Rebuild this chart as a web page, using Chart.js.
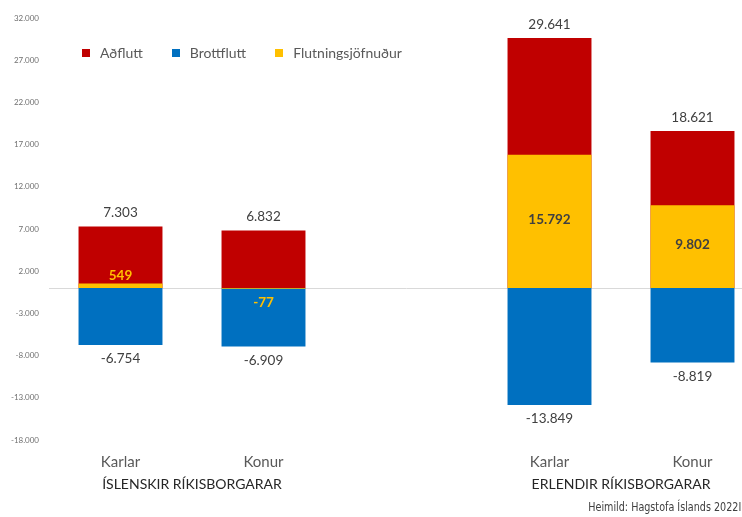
<!DOCTYPE html>
<html>
<head>
<meta charset="utf-8">
<script src="https://cdn.jsdelivr.net/npm/chart.js@4"></script>
<style>
  html, body { margin: 0; padding: 0; background: #fff; overflow: hidden; }
  #wrap { position: relative; width: 742px; height: 517px; overflow: hidden; }
  #c { position: absolute; left: 0; top: 0; }
  #legend { position: absolute; left: 82px; top: 44px; display: flex; align-items: center;
            font-family: Lato, "Open Sans", sans-serif; font-size: 14px; color: #595959; }
  #legend .it { display: flex; align-items: center; margin-right: 29px; }
  #legend .sw { width: 8px; height: 8px; margin-right: 10px; }
  #source { position: absolute; right: 1px; top: 499px; font-family: "Liberation Sans Narrow", "DejaVu Sans Condensed", sans-serif;
            font-size: 13px; color: #404040; white-space: nowrap; transform-origin: right center; }
</style>
</head>
<body>
<div id="wrap">
  <canvas id="c" width="764" height="517"></canvas>
  <div id="legend"></div>
  <div id="source"></div>
</div>
<script>
// ---- data ----
const categories = ['Karlar', 'Konur', '', 'Karlar', 'Konur'];
const groupLabels = ['ÍSLENSKIR RÍKISBORGARAR', 'ERLENDIR RÍKISBORGARAR'];
const seriesNames = ['Aðflutt', 'Brottflutt', 'Flutningsjöfnuður'];
const adflutt = [7303, 6832, null, 29641, 18621];
const brottflutt = [-6754, -6909, null, -13849, -8819];
const flutningsjofnudur = [549, -77, null, 15792, 9802];
const yTicks = [-18000, -13000, -8000, -3000, 2000, 7000, 12000, 17000, 22000, 27000, 32000];
const sourceText = 'Heimild: Hagstofa Íslands 2022I';

const colors = ['#C00000', '#0070C0', '#FFC000'];

function fmt(v) {
  const s = Math.abs(v).toString().replace(/\B(?=(\d{3})+(?!\d))/g, '.');
  return (v < 0 ? '-' : '') + s;
}

// legend + source as HTML text
const lg = document.getElementById('legend');
seriesNames.forEach((n, i) => {
  const it = document.createElement('div'); it.className = 'it';
  const sw = document.createElement('div'); sw.className = 'sw'; sw.style.background = colors[i];
  const tx = document.createElement('span'); tx.textContent = n;
  it.appendChild(sw); it.appendChild(tx); lg.appendChild(it);
});
const src = document.getElementById('source');
src.textContent = sourceText;
const sw0 = src.getBoundingClientRect().width;
if (sw0 > 0) src.style.transform = 'scaleX(' + (153 / sw0) + ')';

const zeroLine = {
  id: 'zeroLine',
  beforeDatasetsDraw(chart) {
    const { ctx, chartArea, scales } = chart;
    const y = Math.round(scales.y.getPixelForValue(0)) + 0.5;
    ctx.save();
    ctx.strokeStyle = '#d9d9d9';
    ctx.lineWidth = 1;
    ctx.beginPath();
    ctx.moveTo(chartArea.left, y);
    ctx.lineTo(chartArea.right, y);
    ctx.stroke();
    ctx.restore();
  }
};

const valueLabels = {
  id: 'valueLabels',
  afterDatasetsDraw(chart) {
    const ctx = chart.ctx;
    ctx.save();
    ctx.textAlign = 'center';
    ctx.textBaseline = 'middle';
    chart.data.datasets.forEach((ds, di) => {
      const meta = chart.getDatasetMeta(di);
      meta.data.forEach((el, i) => {
        const v = ds.data[i];
        if (v === null || v === undefined) return;
        const x = el.x, top = el.y, base = el.base;
        let y, color, font;
        if (di === 0) {
          y = top - 13.5; color = '#404040'; font = '13.5px Lato, sans-serif';
        } else if (di === 1) {
          y = top + 14; color = '#404040'; font = '13.5px Lato, sans-serif';
        } else {
          font = 'bold 13.5px Lato, sans-serif';
          if (Math.abs(base - top) < 24) {
            color = '#FFC000';
            y = v >= 0 ? top - 8 : top + 14;
          } else {
            color = '#404040';
            y = (top + base) / 2 - 2;
          }
        }
        ctx.font = font;
        ctx.fillStyle = color;
        ctx.fillText(fmt(v), x, y);
      });
    });
    ctx.restore();
  }
};

const groupAxis = {
  id: 'groupAxis',
  afterDraw(chart) {
    const ctx = chart.ctx, xs = chart.scales.x;
    const pairs = [[0, 1], [3, 4]];
    ctx.save();
    ctx.font = '14px Lato, sans-serif';
    ctx.fillStyle = '#262626';
    ctx.textAlign = 'center';
    ctx.textBaseline = 'middle';
    pairs.forEach((p, gi) => {
      const x = (xs.getPixelForValue(p[0]) + xs.getPixelForValue(p[1])) / 2;
      ctx.fillText(groupLabels[gi], x, 484);
    });
    ctx.restore();
  }
};

new Chart(document.getElementById('c'), {
  type: 'bar',
  data: {
    labels: categories,
    datasets: [
      { label: seriesNames[0], data: adflutt, backgroundColor: colors[0], order: 1 },
      { label: seriesNames[1], data: brottflutt, backgroundColor: colors[1], order: 1 },
      { label: seriesNames[2], data: flutningsjofnudur, backgroundColor: colors[2], order: 0 }
    ]
  },
  options: {
    responsive: false,
    animation: false,
    layout: { padding: { top: 18, left: 0, right: 0, bottom: 46 } },
    datasets: { bar: { grouped: false, categoryPercentage: 1, barPercentage: 0.587, borderWidth: 0 } },
    plugins: { legend: { display: false }, tooltip: { enabled: false } },
    scales: {
      x: {
        offset: true,
        afterFit(scale) { scale.height = 31; },
        grid: { display: false, drawTicks: false },
        border: { display: false },
        ticks: { padding: 13, color: '#595959', font: { family: 'Lato', size: 15 } }
      },
      y: {
        min: -18000, max: 32000,
        afterBuildTicks(scale) { scale.ticks = yTicks.map(v => ({ value: v })); },
        afterFit(scale) { scale.width = 49; },
        grid: { display: false, drawTicks: false },
        border: { display: false },
        ticks: { padding: 10, color: '#707070', font: { family: 'Lato', size: 8 }, callback: v => fmt(v) }
      }
    }
  },
  plugins: [zeroLine, valueLabels, groupAxis]
});
</script>
</body>
</html>
